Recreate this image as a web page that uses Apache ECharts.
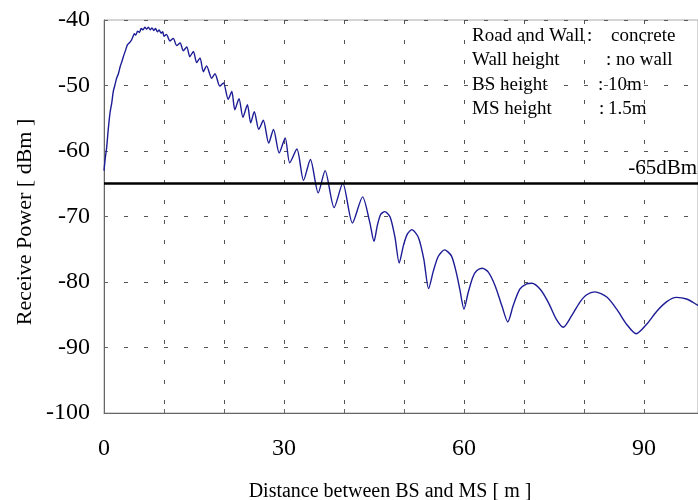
<!DOCTYPE html>
<html>
<head>
<meta charset="utf-8">
<script src="https://cdn.jsdelivr.net/npm/echarts@6/dist/echarts.min.js"></script>
<style>
html,body{margin:0;padding:0;background:#fff;}
#chart{width:698px;height:500px;}
</style>
</head>
<body>
<div id="chart"></div>
<script>
// Distance between BS and MS [m]
var distance = [
  0.0, 0.2, 0.45, 0.7, 1.0, 1.3, 1.55, 1.8, 2.1, 2.4, 2.7, 3.0, 3.3, 3.6, 3.9, 4.2, 4.5, 4.8,
  5.05, 5.3, 5.6, 5.9, 6.2, 6.5, 6.8, 7.1, 7.4, 7.7, 8.0, 8.3, 8.6, 8.9, 9.2, 9.5, 9.8,
  10.0, 10.4, 11.0, 11.55, 12.1, 12.7, 13.2, 13.8, 14.3, 14.9, 15.45, 16.0, 16.55, 17.1,
  17.95, 18.5, 19.3, 19.9, 20.7, 21.3, 21.8, 22.5, 23.15, 23.9, 24.45, 25.05, 25.8, 26.55,
  27.45, 28.25, 29.2, 30.2, 30.95, 32.15, 33.25, 34.4, 35.7, 36.85, 38.35, 39.8, 41.4, 43.1,
  44.3, 45.0, 45.55, 46.1, 46.8, 47.7, 48.5, 49.2, 49.9, 50.55, 51.3, 52.4, 53.3, 54.1,
  54.9, 55.7, 56.75, 57.9, 58.7, 59.3, 60.0, 60.7, 61.45, 62.1, 63.05, 64.05, 65.2, 66.3,
  67.3, 68.2, 69.3, 70.45, 71.3, 72.7, 74.05, 75.4, 76.55, 77.9, 79.3, 80.45, 81.8, 83.8,
  85.45, 87.1, 88.7, 90.45, 92.1, 93.8, 95.4, 97.1, 98.7, 99.6
];
// Receive power [dBm]
var power = [
  -63.0, -61.2, -59.4, -56.8, -54.2, -52.6, -50.9, -50.0, -48.9, -48.2, -47.1, -46.3, -45.4, -44.6, -43.8, -43.5, -43.2, -42.6,
  -42.1, -42.3, -41.7, -41.9, -41.3, -41.5, -41.1, -41.4, -41.1, -41.5, -41.2, -41.6, -41.3, -41.8, -41.5, -42.0, -41.8,
  -42.5, -42.2, -43.2, -42.8, -43.9, -43.5, -44.7, -44.1, -45.6, -44.8, -46.5, -45.8, -47.9, -47.0,
  -48.9, -48.2, -50.1, -49.6, -52.1, -50.9, -53.7, -52.0, -54.85, -52.95, -55.7, -54.0, -56.7, -55.3,
  -58.8, -56.7, -60.3, -58.0, -61.8, -59.7, -64.5, -61.3, -66.4, -63.0, -68.65, -64.9, -71.0, -67.0,
  -70.9, -73.8, -71.4, -69.7, -69.25, -70.1, -73.2, -77.1, -74.45, -72.7, -72.0, -73.2, -76.5, -81.0,
  -78.3, -76.1, -75.1, -76.0, -78.5, -81.1, -84.15, -81.6, -79.3, -78.3, -77.9, -78.5, -80.6, -83.6,
  -86.1, -83.6, -81.1, -80.3, -80.2, -81.1, -83.1, -85.7, -86.9, -85.2, -83.1, -81.95, -81.5, -82.3,
  -84.15, -86.45, -87.9, -86.45, -84.5, -83.0, -82.35, -82.6, -83.4, -83.9
];
var thresholdValue = -65;
var thresholdLabel = '-65dBm';
var xTickLabels = ['0', '30', '60', '90'];
var yTickLabels = ['-100', '-90', '-80', '-70', '-60', '-50', '-40'];
var infoNames = ['Road and Wall', 'Wall height', 'BS height', 'MS height'];
var infoValues = ['concrete', 'no wall', '10m', '1.5m'];

var FONT = '"Liberation Serif","Times New Roman",serif';
var chart = echarts.init(document.getElementById('chart'), null, {renderer: 'canvas'});

var seriesData = distance.map(function (d, i) { return [d, power[i]]; });

var colonX = [587, 606, 598, 599];
var valueX = [611, 616, 608, 608];
var rowY = [35, 59, 84, 108];
var graphics = [];
infoNames.forEach(function (n, i) {
  var top = rowY[i] - 8;
  graphics.push({type: 'text', left: 472, top: top, silent: true,
    style: {text: n, font: '19px ' + FONT, fill: '#000'}});
  graphics.push({type: 'text', left: colonX[i], top: top, silent: true,
    style: {text: ':', font: '19px ' + FONT, fill: '#000'}});
  graphics.push({type: 'text', left: valueX[i], top: top, silent: true,
    style: {text: infoValues[i], font: '19px ' + FONT, fill: '#000'}});
});

var gridDash = {color: '#555', width: 1, type: [4, 16]};

chart.setOption({
  animation: false,
  backgroundColor: '#fff',
  textStyle: {fontFamily: FONT},
  grid: {left: 104, right: 0, top: 20, bottom: 87, show: true, borderColor: '#aaa', borderWidth: 1,
    containLabel: false, outerBoundsMode: 'none'},
  xAxis: {
    type: 'value', min: 0, max: 99, interval: 10,
    name: 'Distance between BS and MS [ m ]', nameLocation: 'middle', nameGap: 69, nameMoveOverlap: false,
    nameTextStyle: {fontFamily: FONT, fontSize: 20, color: '#000', padding: [0, 22, 0, 0]},
    axisLine: {show: true, onZero: false, lineStyle: {color: '#666', width: 1}},
    axisTick: {show: true, inside: true, length: 4, lineStyle: {color: '#666'}},
    axisLabel: {
      fontFamily: FONT, fontSize: 24, color: '#000', margin: 24, showMaxLabel: false,
      formatter: function (v) { var s = String(v); return xTickLabels.indexOf(s) >= 0 ? s : ''; }
    },
    splitLine: {show: true, showMaxLine: false, lineStyle: gridDash}
  },
  yAxis: {
    type: 'value', min: -100, max: -40, interval: 10,
    name: 'Receive Power [ dBm ]', nameLocation: 'middle', nameGap: 68, nameMoveOverlap: false,
    nameTextStyle: {fontFamily: FONT, fontSize: 22, color: '#000', padding: [0, 11, 0, 0]},
    axisLine: {show: true, onZero: false, lineStyle: {color: '#666', width: 1}},
    axisTick: {show: true, inside: true, length: 4, lineStyle: {color: '#666'}},
    axisLabel: {
      fontFamily: FONT, fontSize: 24, color: '#000', margin: 14,
      formatter: function (v) { var s = String(v); return yTickLabels.indexOf(s) >= 0 ? s : ''; }
    },
    splitLine: {show: true, lineStyle: gridDash}
  },
  graphic: graphics,
  series: [{
    type: 'line',
    data: seriesData,
    showSymbol: false,
    smooth: 0.25,
    lineStyle: {color: '#1c1c96', width: 1.4},
    clip: true,
    markLine: {
      silent: true,
      symbol: 'none',
      data: [{yAxis: thresholdValue}],
      lineStyle: {color: '#000', width: 2.5, type: 'solid'},
      label: {show: true, position: 'insideEndTop', formatter: thresholdLabel,
        fontFamily: FONT, fontSize: 21, color: '#000', distance: [1, 5]}
    }
  }]
});
</script>
</body>
</html>
